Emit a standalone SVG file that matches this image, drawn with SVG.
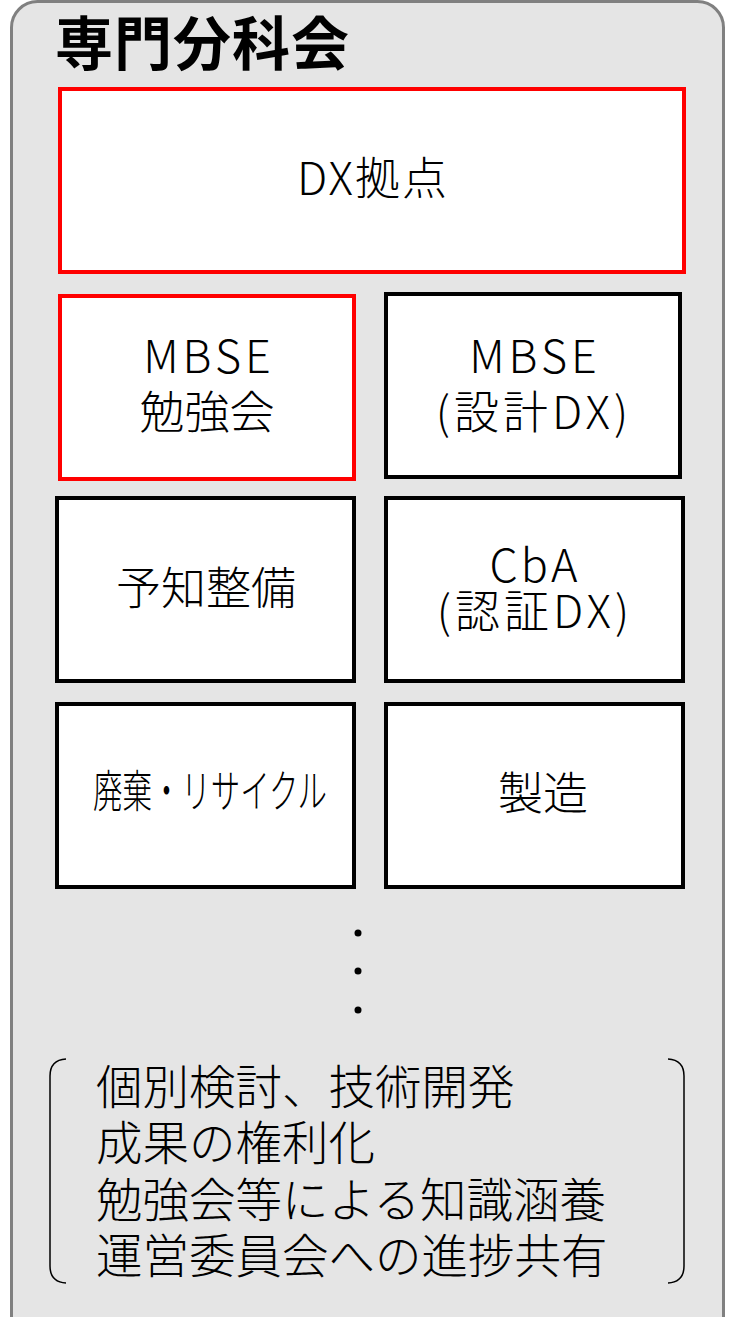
<svg xmlns="http://www.w3.org/2000/svg" width="733" height="1317" viewBox="0 0 733 1317">
<style>
.box{fill:#ffffff;stroke:#000000;stroke-width:4}
.red{stroke:#ff0000}
.t{font-family:"Noto Sans CJK JP","Noto Sans",sans-serif;font-weight:300;font-size:45px;fill:#000;text-anchor:middle}
.ls{letter-spacing:4px}
.b{font-family:"Noto Sans CJK JP","Noto Sans",sans-serif;font-weight:300;font-size:46.5px;fill:#000}
.title{font-family:"Noto Sans CJK JP","Noto Sans",sans-serif;font-weight:700;font-size:58px;fill:#000;letter-spacing:1px}
.br{fill:none;stroke:#000;stroke-width:1.5}
</style>
<g id="container">
<rect x="11.5" y="1.5" width="712" height="1340" rx="26" ry="26" fill="#e5e5e5" stroke="#808080" stroke-width="3"/>
<text class="title" x="55" y="65">専門分科会</text>
</g>
<g id="dx">
<rect class="box red" x="60" y="89" width="624" height="183"/>
<text class="t" x="373" y="195" style="letter-spacing:2px">DX拠点</text>
</g>
<g id="mbse-study">
<rect class="box red" x="60" y="296" width="294" height="183"/>
<text class="t ls" x="209" y="373">MBSE</text>
<text class="t" x="207" y="429">勉強会</text>
</g>
<g id="mbse-design">
<rect class="box" x="386" y="294" width="294" height="183"/>
<text class="t ls" x="535" y="373">MBSE</text>
<text class="t ls" x="534" y="429">(設計DX)</text>
</g>
<g id="maintenance">
<rect class="box" x="57" y="498" width="297" height="183"/>
<text class="t" x="206" y="605">予知整備</text>
</g>
<g id="cba">
<rect class="box" x="386" y="498" width="297" height="183"/>
<text class="t" x="535" y="582" style="letter-spacing:3px">CbA</text>
<text class="t ls" x="535" y="628">(認証DX)</text>
</g>
<g id="recycle">
<rect class="box" x="57" y="704" width="297" height="183"/>
<text class="t" x="210" y="808" textLength="234" lengthAdjust="spacingAndGlyphs">廃棄・リサイクル</text>
</g>
<g id="manufacturing">
<rect class="box" x="386" y="704" width="297" height="183"/>
<text class="t" x="543" y="810">製造</text>
</g>
<g id="dots" fill="#000">
<circle cx="358" cy="933" r="3.5"/>
<circle cx="358" cy="971" r="3.5"/>
<circle cx="358" cy="1010" r="3.5"/>
</g>
<g id="notes">
<path class="br" d="M66 1059 Q50 1060 50 1076 L50 1266 Q50 1282 66 1283"/>
<path class="br" d="M668 1059 Q684 1060 684 1076 L684 1266 Q684 1282 668 1283"/>
<text class="b" x="96" y="1104">個別検討、技術開発</text>
<text class="b" x="96" y="1160">成果の権利化</text>
<text class="b" x="96" y="1217">勉強会等による知識涵養</text>
<text class="b" x="96" y="1273">運営委員会への進捗共有</text>
</g>
</svg>
